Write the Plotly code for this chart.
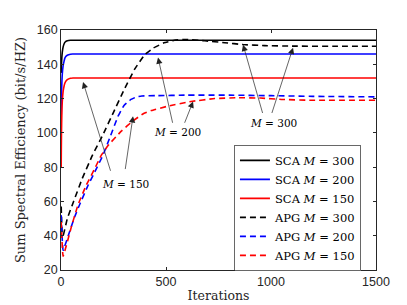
import plotly.graph_objects as go

# ---------------- data ----------------
sca_iter = [1, 3, 6, 10, 15, 20, 30, 45, 60, 100, 1500]
sca_300 = [135, 142, 147, 150, 152, 153, 153.7, 154, 154, 154, 154]
sca_200 = [110, 125, 134, 139, 142, 144, 145.3, 145.9, 146, 146, 146]
sca_150 = [80, 105, 118, 124, 127.5, 129.5, 131, 131.8, 132, 132, 132]

apg300_iter = [1, 5, 10, 30, 60, 100, 150, 200, 250, 300, 350, 398, 440, 490,
               540, 590, 685, 780, 867, 970, 1100, 1300, 1500]
apg_300 = [57, 42, 40, 50, 60, 73, 87, 99, 112, 125, 137, 145.5, 149.5, 152.5,
           154, 154.5, 153.7, 152.6, 151.5, 150.9, 150.6, 150.5, 150.5]

apg200_iter = [1, 10, 40, 65, 90, 130, 160, 200, 235, 271, 300, 333, 360, 385, 450,
               600, 800, 1000, 1200, 1500]
apg_200 = [52, 31.5, 42, 51, 58.5, 69.7, 77, 87, 98, 109.5, 116, 119.5, 121, 121.5,
           121.7, 122, 122, 121.7, 121.3, 121]

apg150_iter = [1, 10, 49, 81, 121, 160, 192, 224, 287, 343, 390, 430, 510, 619, 732,
               843, 950, 1050, 1200, 1500]
apg_150 = [48, 28, 45, 58, 69.7, 79, 87, 92.6, 101, 107, 111, 113, 115.6, 118.3,
           120, 120.5, 120.3, 119.5, 119, 119]

x_ticks = [0, 500, 1000, 1500]
y_ticks = [20, 40, 60, 80, 100, 120, 140, 160]

SERIF = "DejaVu Serif, serif"
SANS = "Liberation Sans, Arial, sans-serif"
AX = "#262626"

fig = go.Figure()
series = [
    (sca_iter, sca_300, "#000000", "solid", "SCA <i>M</i> = 300", 1.0),
    (sca_iter, sca_200, "#0000FF", "solid", "SCA <i>M</i> = 200", 1.0),
    (sca_iter, sca_150, "#FF0000", "solid", "SCA <i>M</i> = 150", 1.0),
    (apg300_iter, apg_300, "#000000", "6px,4px", "APG <i>M</i> = 300", 0.3),
    (apg200_iter, apg_200, "#0000FF", "6px,4px", "APG <i>M</i> = 200", 0.3),
    (apg150_iter, apg_150, "#FF0000", "6px,4px", "APG <i>M</i> = 150", 0.3),
]
for xs, ys, col, dash, name, sm in series:
    fig.add_trace(go.Scatter(x=xs, y=ys, mode="lines", name=name,
                             line=dict(color=col, width=1.6, dash=dash, shape="spline", smoothing=sm)))

arrow_style = dict(showarrow=True, arrowhead=2, arrowsize=1.8, arrowwidth=0.7,
                   arrowcolor="#222222", axref="x", ayref="y", text="")
arrows = [
    (105, 129.7, 238, 77), (343, 109.7, 305, 78),
    (462, 144, 533, 105), (629, 118.3, 586, 105),
    (867, 151.4, 962, 110.7), (1105, 149.7, 1002, 110.7),
]
annotations = []
for hx, hy, tx, ty in arrows:
    annotations.append(dict(x=hx, y=hy, ax=tx, ay=ty, **arrow_style))
for tx, ty, txt in [(305, 70.3, "<i>M</i> = 150"), (557, 100.6, "<i>M</i> = 200"),
                    (1010, 105.7, "<i>M</i> = 300")]:
    annotations.append(dict(x=tx, y=ty, text=txt, showarrow=False,
                            font=dict(family=SERIF, size=10.5, color="#000000")))

fig.update_layout(
    width=407, height=305,
    margin=dict(l=53, r=39, t=22, b=38),
    paper_bgcolor="white", plot_bgcolor="white",
    annotations=annotations,
    legend=dict(x=0.55, y=0.52, xanchor="left", yanchor="top",
                bgcolor="white", bordercolor=AX, borderwidth=0.7,
                font=dict(family=SERIF, size=11.5, color="#000000"),
                tracegroupgap=0, itemwidth=30),
    showlegend=True,
)
fig.update_xaxes(range=[0, 1500], tickvals=x_ticks, showgrid=False, zeroline=False,
                 showline=True, linecolor=AX, linewidth=0.8, mirror="ticks",
                 ticks="inside", ticklen=3, tickcolor=AX,
                 tickfont=dict(family=SANS, size=12.5, color=AX),
                 title=dict(text="Iterations", font=dict(family=SERIF, size=12.5, color=AX), standoff=3))
fig.update_yaxes(range=[20, 160], tickvals=y_ticks, showgrid=False, zeroline=False,
                 showline=True, linecolor=AX, linewidth=0.8, mirror="ticks",
                 ticks="inside", ticklen=3, tickcolor=AX,
                 tickfont=dict(family=SANS, size=12.5, color=AX),
                 title=dict(text="Sum Spectral Efficiency (bit/s/HZ)",
                            font=dict(family=SERIF, size=13, color=AX), standoff=8))

fig.write_html("out.html")
